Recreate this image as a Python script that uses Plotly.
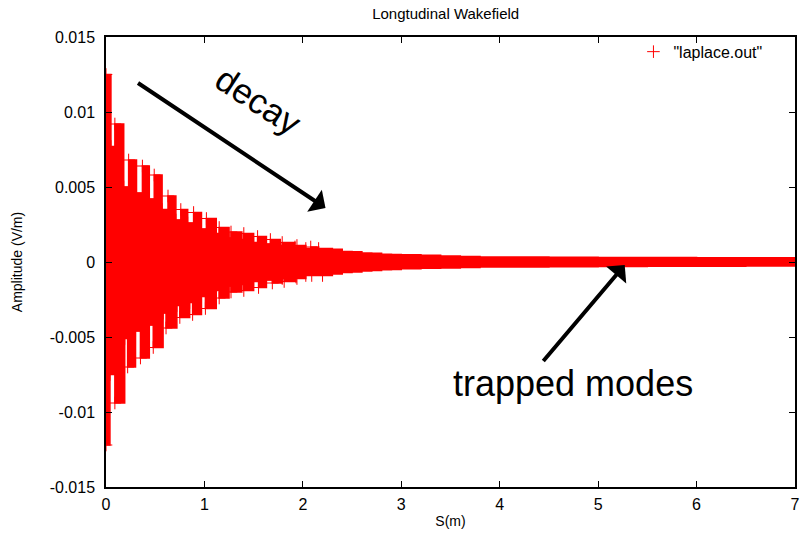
import plotly.graph_objects as go

# Envelope of the wakefield (S in m, amplitude in V/m).
# Early part: each ringing column is given by its left edge (peak value) and right edge
# (value of the gap that follows it).
s_upper = [0.0, 0.05, 0.09, 0.18, 0.23, 0.31, 0.37, 0.44, 0.49, 0.57, 0.63, 0.71, 0.76, 0.83,
           0.89, 0.97, 1.02, 1.12, 1.15, 1.25, 1.27, 1.38, 1.40, 1.50, 1.54, 1.63, 1.67, 1.77,
           1.79, 1.92, 1.94, 2.03, 2.08, 2.16, 2.3, 2.4, 2.5, 2.6, 2.7, 2.8, 2.9, 3.0, 3.2,
           3.4, 3.6, 3.8, 4.0, 4.5, 5.0, 5.5, 6.0, 6.5, 7.0]
amp_upper = [0.0125, 0.0077, 0.0092, 0.0050, 0.0068, 0.0046, 0.0064, 0.0042, 0.0058, 0.0035,
             0.0044, 0.0028, 0.0035, 0.0026, 0.0033, 0.0022, 0.0029, 0.0019, 0.0023, 0.0016,
             0.0020, 0.0015, 0.0019, 0.0013, 0.0017, 0.0012, 0.0015, 0.0011, 0.0013, 0.0010,
             0.0011, 0.0009, 0.0010, 0.0009, 0.00085, 0.0007, 0.00068, 0.0006, 0.00058, 0.00052,
             0.0005, 0.00048, 0.00045, 0.0004, 0.00037, 0.00034, 0.00033, 0.00031, 0.0003,
             0.0003, 0.00028, 0.00028, 0.00027]
s_lower = [0.0, 0.04, 0.09, 0.19, 0.22, 0.30, 0.35, 0.44, 0.48, 0.58, 0.61, 0.72, 0.75, 0.85,
           0.88, 0.97, 1.01, 1.12, 1.15, 1.25, 1.27, 1.38, 1.40, 1.50, 1.55, 1.63, 1.69, 1.79,
           1.81, 1.93, 1.94, 2.03, 2.09, 2.20, 2.3, 2.4, 2.5, 2.6, 2.7, 2.8, 2.9, 3.0, 3.2,
           3.4, 3.6, 3.8, 4.0, 4.5, 5.0, 5.5, 6.0, 6.5, 7.0]
amp_lower = [-0.0122, -0.0075, -0.0094, -0.0051, -0.0070, -0.0046, -0.0064, -0.0042, -0.0057,
             -0.0034, -0.0044, -0.0029, -0.0037, -0.0027, -0.0035, -0.0023, -0.0031, -0.0019,
             -0.0024, -0.0016, -0.0020, -0.0015, -0.0019, -0.0013, -0.0017, -0.0012, -0.0014,
             -0.0011, -0.0013, -0.0010, -0.0011, -0.0009, -0.0009, -0.0009, -0.0008, -0.0007,
             -0.00067, -0.0006, -0.00056, -0.00052, -0.0005, -0.00045, -0.00042, -0.0004,
             -0.00036, -0.00033, -0.00033, -0.00031, -0.0003, -0.00029, -0.00028, -0.00027,
             -0.00027]

y_ticks = [-0.015, -0.01, -0.005, 0, 0.005, 0.01, 0.015]
y_tick_text = ["-0.015", "-0.01", "-0.005", "0", "0.005", "0.01", "0.015"]
x_ticks = [0, 1, 2, 3, 4, 5, 6, 7]

RED = "#ff0000"
FONT = "Liberation Sans, Arial, sans-serif"

# '+' markers drawn where the ringing columns are (the dense early part of the record)
mk_s = [s for s in s_upper + s_lower if s <= 2.2]
mk_a = [a for s, a in zip(s_upper + s_lower, amp_upper + amp_lower) if s <= 2.2]

fig = go.Figure()
fig.add_trace(go.Scatter(x=s_lower, y=amp_lower, mode="lines", line=dict(color=RED, width=1.5, shape="hv"),
                         showlegend=False, hoverinfo="skip"))
fig.add_trace(go.Scatter(x=s_upper, y=amp_upper, mode="lines", line=dict(color=RED, width=1.5, shape="hv"),
                         fill="tonexty", fillcolor=RED, showlegend=False, hoverinfo="skip"))
fig.add_trace(go.Scatter(x=mk_s, y=mk_a, mode="markers", name='"laplace.out"',
                         marker=dict(symbol="cross-thin", size=9, color=RED,
                                     line=dict(color=RED, width=1))))

axis_common = dict(showline=True, linecolor="black", linewidth=1.5, mirror="ticks",
                   ticks="inside", ticklen=6, tickcolor="black", showgrid=False, zeroline=False,
                   tickfont=dict(family=FONT, size=16, color="black"))

fig.update_xaxes(range=[0, 7], tickvals=x_ticks, **axis_common, ticklabelstandoff=2,
                 title=dict(text="S(m)", font=dict(family=FONT, size=14, color="black"), standoff=4))
fig.update_yaxes(range=[-0.015, 0.015], tickvals=y_ticks, ticktext=y_tick_text, **axis_common,
                 ticklabelstandoff=6,
                 title=dict(text="Amplitude (V/m)", font=dict(family=FONT, size=14, color="black"),
                            standoff=24))

fig.add_annotation(x=2.23, y=0.0036, ax=0.31, ay=0.012, xref="x", yref="y", axref="x", ayref="y",
                   showarrow=True, arrowhead=1, arrowsize=1.1, arrowwidth=4, arrowcolor="black", text="")
fig.add_annotation(x=5.27, y=-0.0002, ax=4.43, ay=-0.0067, xref="x", yref="y", axref="x", ayref="y",
                   showarrow=True, arrowhead=1, arrowsize=1.1, arrowwidth=4, arrowcolor="black", text="")
fig.add_annotation(x=1.55, y=0.0108, xref="x", yref="y", text="decay", showarrow=False, textangle=33,
                   font=dict(family=FONT, size=35, color="black"))
fig.add_annotation(x=4.74, y=-0.0081, xref="x", yref="y", text="trapped modes", showarrow=False,
                   font=dict(family=FONT, size=36, color="black"))

fig.update_layout(
    width=803, height=533,
    margin=dict(l=106, r=3, t=37, b=46),
    paper_bgcolor="white", plot_bgcolor="white",
    title=dict(text="Longtudinal Wakefield", x=0.555, xanchor="center", y=0.975, yanchor="middle",
               font=dict(family=FONT, size=15, color="black")),
    legend=dict(x=0.96, y=1.005, xanchor="right", yanchor="top", bgcolor="rgba(0,0,0,0)",
                font=dict(family=FONT, size=16, color="black")),
)

fig.write_html("out.html")
